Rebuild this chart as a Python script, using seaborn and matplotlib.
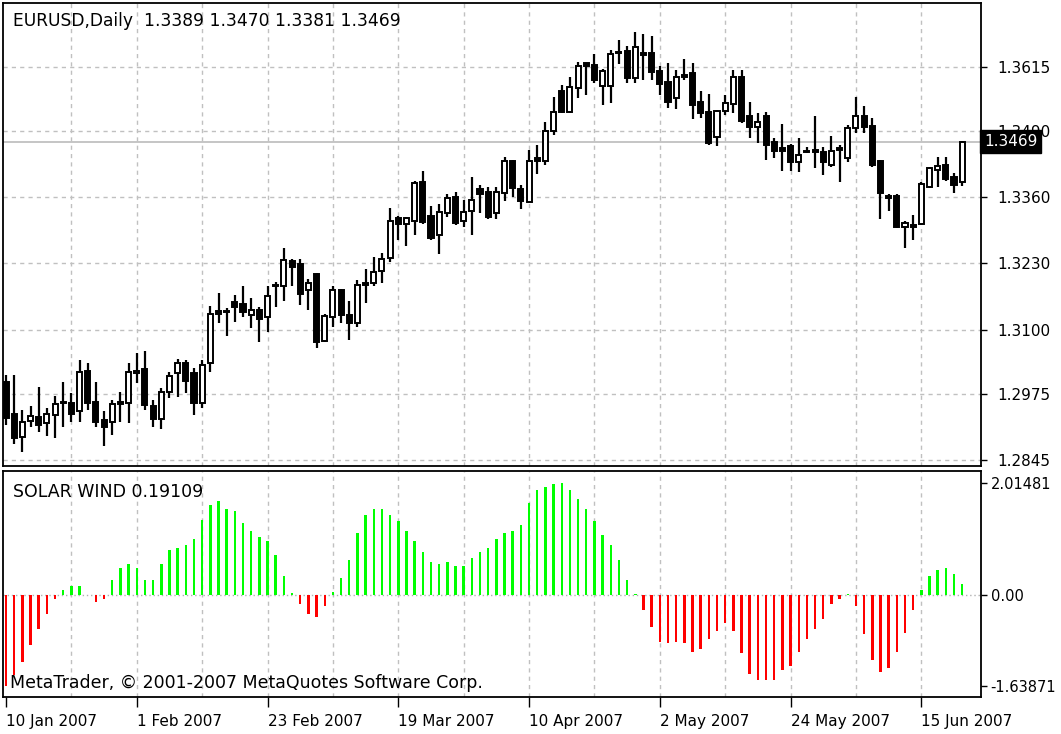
import numpy as np
import pandas as pd
import matplotlib
matplotlib.use("Agg")
import matplotlib.pyplot as plt
import matplotlib.transforms as mtransforms
import seaborn as sns

# EURUSD daily candles, 10 Jan 2007 .. 22 Jun 2007 (weekday bars)
dates = pd.bdate_range("2007-01-10", periods=118)

opens = [1.2998, 1.2935, 1.2890, 1.2922, 1.2930, 1.2918, 1.2933, 1.2959, 1.2956, 1.2940,
         1.3020, 1.2959, 1.2923, 1.2920, 1.2959, 1.2956, 1.3016, 1.3023, 1.2951, 1.2925,
         1.2979, 1.3015, 1.3035, 1.3015, 1.2957, 1.3035, 1.3136, 1.3137, 1.3155, 1.3151,
         1.3129, 1.3139, 1.3125, 1.3188, 1.3186, 1.3235, 1.3229, 1.3178, 1.3209, 1.3079,
         1.3125, 1.3178, 1.3129, 1.3114, 1.3191, 1.3191, 1.3216, 1.3241, 1.3319, 1.3307,
         1.3314, 1.3390, 1.3323, 1.3286, 1.3328, 1.3360, 1.3314, 1.3333, 1.3375, 1.3371,
         1.3328, 1.3369, 1.3431, 1.3375, 1.3351, 1.3436, 1.3430, 1.3490, 1.3567, 1.3527,
         1.3573, 1.3622, 1.3619, 1.3578, 1.3578, 1.3645, 1.3647, 1.3593, 1.3643, 1.3643,
         1.3608, 1.3586, 1.3554, 1.3599, 1.3604, 1.3547, 1.3527, 1.3477, 1.3529, 1.3543,
         1.3595, 1.3519, 1.3498, 1.3519, 1.3469, 1.3456, 1.3460, 1.3429, 1.3449, 1.3452,
         1.3449, 1.3423, 1.3456, 1.3437, 1.3495, 1.3519, 1.3499, 1.3431, 1.3362, 1.3362,
         1.3302, 1.3305, 1.3307, 1.3380, 1.3413, 1.3423, 1.3400, 1.3389]

highs = [1.3012, 1.3012, 1.2943, 1.2951, 1.2988, 1.2947, 1.2970, 1.2998, 1.2976, 1.3040,
         1.3035, 1.2998, 1.2940, 1.2963, 1.2979, 1.3035, 1.3055, 1.3059, 1.2963, 1.2987,
         1.3018, 1.3042, 1.3041, 1.3025, 1.3040, 1.3147, 1.3172, 1.3143, 1.3168, 1.3186,
         1.3162, 1.3145, 1.3185, 1.3194, 1.3260, 1.3238, 1.3238, 1.3199, 1.3212, 1.3131,
         1.3185, 1.3180, 1.3157, 1.3198, 1.3219, 1.3243, 1.3251, 1.3338, 1.3323, 1.3322,
         1.3392, 1.3412, 1.3343, 1.3347, 1.3367, 1.3371, 1.3354, 1.3399, 1.3384, 1.3379,
         1.3379, 1.3439, 1.3432, 1.3384, 1.3452, 1.3462, 1.3508, 1.3557, 1.3580, 1.3595,
         1.3625, 1.3623, 1.3640, 1.3612, 1.3648, 1.3667, 1.3656, 1.3684, 1.3680, 1.3676,
         1.3616, 1.3623, 1.3610, 1.3630, 1.3623, 1.3567, 1.3563, 1.3531, 1.3560, 1.3610,
         1.3610, 1.3547, 1.3524, 1.3527, 1.3475, 1.3503, 1.3464, 1.3475, 1.3458, 1.3519,
         1.3459, 1.3480, 1.3462, 1.3501, 1.3556, 1.3539, 1.3516, 1.3432, 1.3366, 1.3366,
         1.3314, 1.3325, 1.3390, 1.3420, 1.3439, 1.3439, 1.3407, 1.3470]

lows = [1.2914, 1.2876, 1.2861, 1.2910, 1.2900, 1.2892, 1.2888, 1.2910, 1.2920, 1.2920,
        1.2942, 1.2910, 1.2872, 1.2894, 1.2920, 1.2918, 1.2995, 1.2943, 1.2909, 1.2905,
        1.2966, 1.2968, 1.2977, 1.2933, 1.2946, 1.3018, 1.3113, 1.3088, 1.3116, 1.3125,
        1.3103, 1.3077, 1.3096, 1.3145, 1.3157, 1.3185, 1.3149, 1.3138, 1.3064, 1.3077,
        1.3105, 1.3114, 1.3081, 1.3105, 1.3152, 1.3185, 1.3191, 1.3233, 1.3276, 1.3264,
        1.3286, 1.3307, 1.3276, 1.3249, 1.3322, 1.3305, 1.3301, 1.3286, 1.3328, 1.3317,
        1.3317, 1.3353, 1.3361, 1.3336, 1.3348, 1.3405, 1.3423, 1.3482, 1.3524, 1.3524,
        1.3554, 1.3560, 1.3583, 1.3541, 1.3545, 1.3621, 1.3584, 1.3584, 1.3590, 1.3590,
        1.3560, 1.3534, 1.3532, 1.3590, 1.3513, 1.3516, 1.3462, 1.3460, 1.3521, 1.3525,
        1.3505, 1.3475, 1.3466, 1.3433, 1.3436, 1.3412, 1.3412, 1.3410, 1.3446, 1.3417,
        1.3403, 1.3420, 1.3390, 1.3429, 1.3486, 1.3485, 1.3420, 1.3317, 1.3333, 1.3300,
        1.3260, 1.3276, 1.3305, 1.3377, 1.3380, 1.3392, 1.3369, 1.3381]

closes = [1.2927, 1.2888, 1.2920, 1.2931, 1.2914, 1.2935, 1.2955, 1.2956, 1.2936, 1.3018,
          1.2956, 1.2920, 1.2909, 1.2955, 1.2955, 1.3018, 1.3020, 1.2953, 1.2925, 1.2979,
          1.3010, 1.3035, 1.3000, 1.2957, 1.3031, 1.3131, 1.3131, 1.3134, 1.3145, 1.3134,
          1.3139, 1.3121, 1.3166, 1.3185, 1.3237, 1.3224, 1.3170, 1.3191, 1.3077, 1.3127,
          1.3179, 1.3129, 1.3114, 1.3188, 1.3188, 1.3214, 1.3238, 1.3314, 1.3307, 1.3319,
          1.3388, 1.3312, 1.3279, 1.3331, 1.3358, 1.3310, 1.3330, 1.3354, 1.3366, 1.3322,
          1.3371, 1.3431, 1.3377, 1.3353, 1.3430, 1.3431, 1.3490, 1.3527, 1.3527, 1.3575,
          1.3617, 1.3617, 1.3590, 1.3608, 1.3640, 1.3642, 1.3593, 1.3654, 1.3639, 1.3606,
          1.3582, 1.3547, 1.3595, 1.3596, 1.3541, 1.3524, 1.3466, 1.3529, 1.3544, 1.3595,
          1.3510, 1.3497, 1.3508, 1.3462, 1.3451, 1.3451, 1.3429, 1.3443, 1.3450, 1.3449,
          1.3429, 1.3451, 1.3452, 1.3496, 1.3519, 1.3498, 1.3423, 1.3368, 1.3358, 1.3302,
          1.3309, 1.3302, 1.3386, 1.3417, 1.3421, 1.3395, 1.3384, 1.3469]

# SOLAR WIND indicator histogram
solar_wind = [-1.63871, -1.45, -1.20, -0.90, -0.61, -0.35, -0.07, 0.08, 0.16, 0.16,
              0.00, -0.13, -0.07, 0.27, 0.48, 0.55, 0.49, 0.27, 0.27, 0.56,
              0.81, 0.85, 0.89, 1.00, 1.34, 1.62, 1.69, 1.55, 1.51, 1.30,
              1.15, 1.04, 0.97, 0.71, 0.34, 0.04, -0.16, -0.35, -0.39, -0.20,
              0.05, 0.30, 0.63, 1.11, 1.44, 1.55, 1.55, 1.44, 1.33, 1.15,
              0.97, 0.78, 0.59, 0.56, 0.59, 0.52, 0.52, 0.67, 0.78, 0.85,
              1.00, 1.11, 1.15, 1.25, 1.66, 1.88, 1.95, 2.00, 2.01481, 1.88,
              1.73, 1.55, 1.33, 1.07, 0.89, 0.63, 0.26, 0.02, -0.28, -0.57,
              -0.84, -0.86, -0.84, -0.86, -1.02, -0.98, -0.79, -0.65, -0.50, -0.65,
              -1.05, -1.42, -1.53, -1.53, -1.53, -1.35, -1.28, -1.02, -0.79, -0.61,
              -0.43, -0.17, -0.07, 0.02, -0.20, -0.71, -1.17, -1.38, -1.31, -1.02,
              -0.68, -0.28, 0.08, 0.34, 0.44, 0.48, 0.37, 0.19109]

price_ticks = [1.2845, 1.2975, 1.3100, 1.3230, 1.3360, 1.3490, 1.3615]
ind_ticks = [2.01481, 0.0, -1.63871]
ind_tick_labels = ["2.01481", "0.00", "-1.63871"]
last_price = 1.3469

df = pd.DataFrame({"date": dates, "open": opens, "high": highs, "low": lows,
                   "close": closes, "wind": solar_wind})
df["bar"] = np.arange(len(df))
df["side"] = np.where(df["wind"] >= 0, "up", "down")

sns.set_theme(style="white")
plt.rcParams["font.family"] = ["DejaVu Sans"]
plt.rcParams["text.color"] = "black"

W, H = 1061, 734
fig = plt.figure(figsize=(W / 100, H / 100), dpi=100)
ax = fig.add_axes([3 / W, 1 - 466 / H, 978 / W, 463 / H])
ax2 = fig.add_axes([3 / W, 1 - 697 / H, 978 / W, 226 / H])

grid_kw = dict(color="#c0c0c0", lw=1.0, ls=(0, (3, 3)), zorder=0)
grid_bars = list(range(8, len(df), 8))

# --- price panel ---
for b in grid_bars:
    ax.axvline(b, **grid_kw)
for t in price_ticks:
    ax.axhline(t, **grid_kw)
ax.axhline(last_price, color="#c0c0c0", lw=1.3, zorder=1)

ax.vlines(df["bar"], df["low"], df["high"], color="black", lw=1.6, zorder=2)
body_low = df[["open", "close"]].min(axis=1)
body_h = (df["close"] - df["open"]).abs().clip(lower=0.00003)
fill = np.where(df["close"] >= df["open"], "white", "black")
ax.bar(df["bar"], body_h, bottom=body_low, width=0.62, color=fill,
       edgecolor="black", linewidth=1.4, zorder=3)

ax.set_xlim(-0.37, 119.3)
ax.set_ylim(1.28332, 1.37404)
ax.set_xticks([])
ax.yaxis.tick_right()
ax.set_yticks(price_ticks)
ax.set_yticklabels([f"{t:.4f}" for t in price_ticks])
ax.tick_params(axis="y", direction="out", length=4, width=1, colors="black",
               labelsize=11, pad=8)
for lbl in ax.get_yticklabels():
    lbl.set_horizontalalignment("left")

trans = mtransforms.blended_transform_factory(ax.transAxes, ax.transData)
ax.text(1.003, last_price, "1.3469", transform=trans, color="white", fontsize=11,
        va="center", ha="left", zorder=10, clip_on=False,
        bbox=dict(boxstyle="square,pad=0.25", fc="black", ec="black"))

ax.text(0.010, 0.962, "EURUSD,Daily  1.3389 1.3470 1.3381 1.3469",
        transform=ax.transAxes, fontsize=12.3, va="center", ha="left", color="black")

# --- indicator panel ---
for b in grid_bars:
    ax2.axvline(b, **grid_kw)
ax2.axhline(0, color="#b0b0b0", lw=1.0, ls=(0, (1, 2)), zorder=0)

sns.barplot(data=df, x="bar", y="wind", hue="side",
            palette={"up": "#00ff00", "down": "#ff0000"},
            dodge=False, width=0.3, legend=False, saturation=1, ax=ax2,
            zorder=2, linewidth=0, antialiased=False)

ax2.set_xlim(-0.37, 119.3)
ax2.set_ylim(-1.838, 2.230)
ax2.set_xlabel("")
ax2.set_ylabel("")
ax2.yaxis.tick_right()
ax2.set_yticks(ind_ticks)
ax2.set_yticklabels(ind_tick_labels)
ax2.tick_params(axis="y", direction="out", length=4, width=1, colors="black",
                labelsize=10.5, pad=3)
for lbl in ax2.get_yticklabels():
    lbl.set_horizontalalignment("left")

label_bars = list(range(0, len(df), 16))
ax2.set_xticks(label_bars)
ax2.set_xticklabels([f"{d.day} {d:%b %Y}" for d in df["date"].iloc[label_bars]])
ax2.tick_params(axis="x", direction="out", length=7, width=1, colors="black",
                labelsize=11, pad=5, bottom=True)
for lbl in ax2.get_xticklabels():
    lbl.set_horizontalalignment("left")

ax2.text(0.010, 0.905, "SOLAR WIND 0.19109", transform=ax2.transAxes,
         fontsize=12.5, va="center", ha="left", color="black")
ax2.text(0.007, 0.06, "MetaTrader, \u00a9 2001-2007 MetaQuotes Software Corp.",
         transform=ax2.transAxes, fontsize=12.5, va="center", ha="left", color="black")

for a in (ax, ax2):
    for s in a.spines.values():
        s.set_color("black")
        s.set_linewidth(1.3)

fig.savefig("out.png", dpi=100, facecolor="white")
